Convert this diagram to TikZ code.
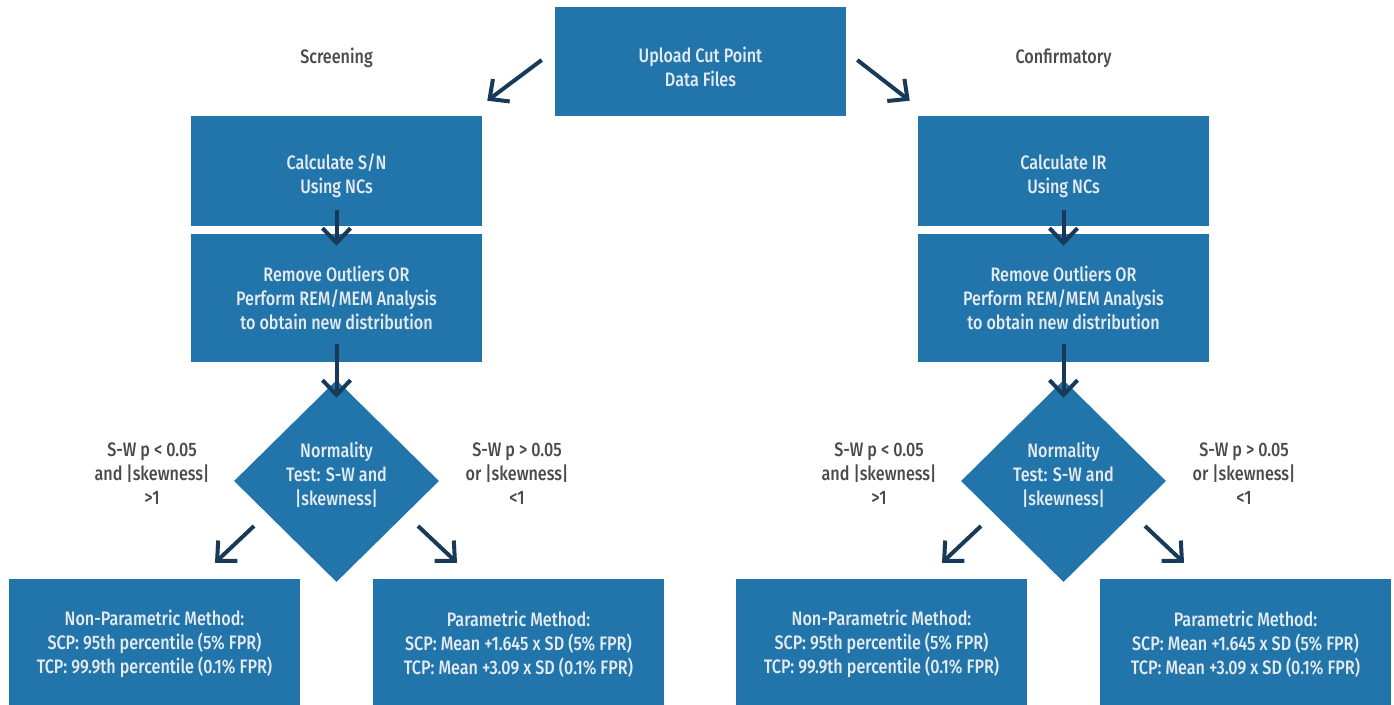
\documentclass[tikz,border=0pt]{standalone}
\usepackage{fontspec}
\setmainfont{Fira Sans}[UprightFont=* Medium,FakeStretch=0.83]
\usetikzlibrary{shapes.geometric,arrows.meta}
\definecolor{boxblue}{HTML}{2275AB}
\definecolor{boxtext}{HTML}{E6EBF0}
\definecolor{arrowc}{HTML}{173A58}
\definecolor{labelc}{HTML}{4A4A4A}
\newdimen\px \px=0.75pt
\tikzset{
  x=0.75pt, y=-0.75pt,
  txt/.style={font=\fontsize{14.6}{18}\selectfont, align=center, inner sep=0pt},
  bluebox/.style={txt, fill=boxblue, text=boxtext, minimum width=291\px},
  boxtxt/.style={txt, text=boxtext},
  bluedia/.style={diamond, fill=boxblue, inner sep=0pt, minimum width=205\px, minimum height=202\px},
  lbl/.style={txt, text=labelc},
  arr/.style={draw=arrowc, line width=3pt, -{Straight Barb[length=11pt,width=21pt,sharp]}},
}
\begin{document}
\begin{tikzpicture}
\useasboundingbox (0,0) rectangle (1394,704);
% top
\node[bluebox, minimum height=109\px] (top) at (700.5,61.5) {};
\node[boxtxt] (topt) at (700.5,66.5) {Upload Cut Point\\Data Files};
\node[lbl] (scr) at (336.5,58) {Screening};
\node[lbl] (conf) at (1063.5,58) {Confirmatory};
% left column
\node[bluebox, minimum height=110\px] (calcL) at (336.5,171) {};
\node[boxtxt] (calcLt) at (336.5,176) {Calculate S/N\\Using NCs};
\node[bluebox, minimum height=128\px] (remL) at (336.5,298) {Remove Outliers OR\\Perform REM/MEM Analysis\\to obtain new distribution};
\node[bluedia] (diaL) at (336.5,481) {};
\node[boxtxt] (diaLt) at (336.5,475) {Normality\\Test: S-W and\\|skewness|};
\node[bluebox, minimum height=130\px] (npL) at (154.5,644) {Non-Parametric Method:\\SCP: 95th percentile (5\% FPR)\\TCP: 99.9th percentile (0.1\% FPR)};
\node[bluebox, minimum height=130\px] (pL) at (518.5,644) {Parametric Method:\\SCP: Mean +1.645 x SD (5\% FPR)\\TCP: Mean +3.09 x SD (0.1\% FPR)};
\node[lbl] (lnL) at (152,474) {S-W p < 0.05\\and |skewness|\\>1};
\node[lbl] (lpL) at (517,474) {S-W p > 0.05\\or |skewness|\\<1};
% right column
\node[bluebox, minimum height=110\px] (calcR) at (1063.5,171) {};
\node[boxtxt] (calcRt) at (1063.5,176) {Calculate IR\\Using NCs};
\node[bluebox, minimum height=128\px] (remR) at (1063.5,298) {Remove Outliers OR\\Perform REM/MEM Analysis\\to obtain new distribution};
\node[bluedia] (diaR) at (1063.5,481) {};
\node[boxtxt] (diaRt) at (1063.5,475) {Normality\\Test: S-W and\\|skewness|};
\node[bluebox, minimum height=130\px] (npR) at (881.5,644) {Non-Parametric Method:\\SCP: 95th percentile (5\% FPR)\\TCP: 99.9th percentile (0.1\% FPR)};
\node[bluebox, minimum height=130\px] (pR) at (1245.5,644) {Parametric Method:\\SCP: Mean +1.645 x SD (5\% FPR)\\TCP: Mean +3.09 x SD (0.1\% FPR)};
\node[lbl] (lnR) at (879,474) {S-W p < 0.05\\and |skewness|\\>1};
\node[lbl] (lpR) at (1244,474) {S-W p > 0.05\\or |skewness|\\<1};
% arrows
\draw[arr] ([shift={(-13,-1.5)}]top.west) -- ([shift={(5,-15)}]calcL.north east);
\draw[arr] ([shift={(11,-1.5)}]top.east) -- ([shift={(-8,-15)}]calcR.north west);
\foreach \s in {L,R}{
  \draw[arr] ([shift={(0,-16)}]calc\s.south) -- ([shift={(0,12)}]rem\s.north);
  \draw[arr] ([shift={(0,-18)}]rem\s.south) -- ([shift={(0,18)}]dia\s.north);
  \draw[arr] ([shift={(-82.5,45)}]dia\s.center) -- ([shift={(60.5,-16)}]np\s.north);
  \draw[arr] ([shift={(81.5,45)}]dia\s.center) -- ([shift={(-61.5,-16)}]p\s.north);
}
\end{tikzpicture}
\end{document}
